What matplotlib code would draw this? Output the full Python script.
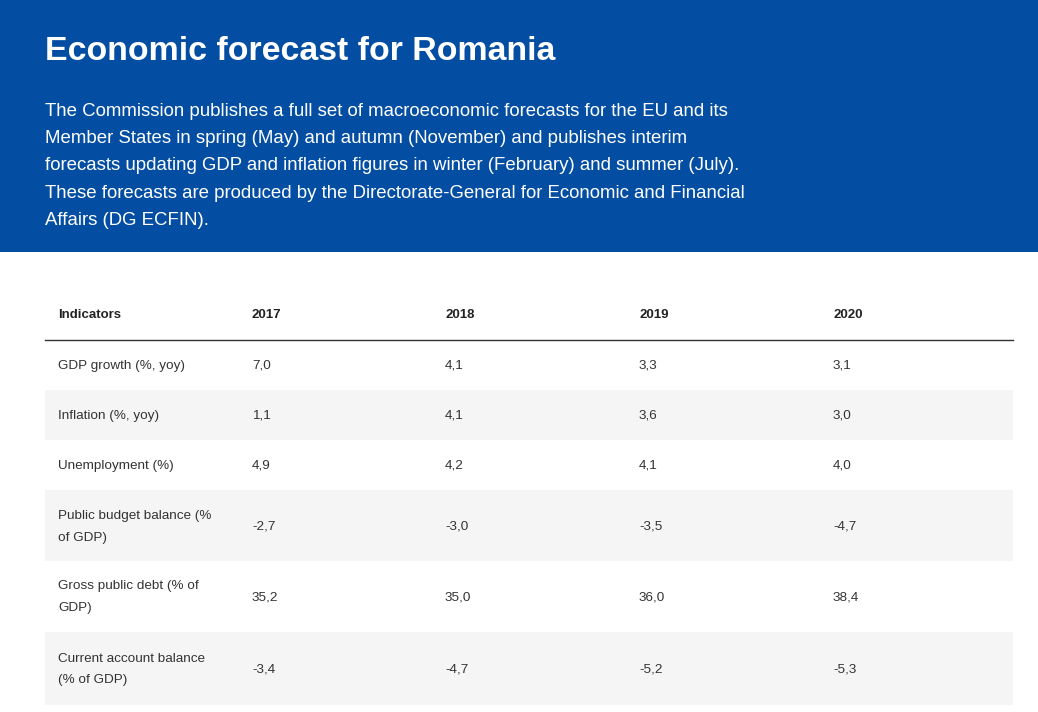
import matplotlib
matplotlib.use("Agg")
import matplotlib.pyplot as plt
from matplotlib.patches import Rectangle

title = "Economic forecast for Romania"
para = ["The Commission publishes a full set of macroeconomic forecasts for the EU and its",
        "Member States in spring (May) and autumn (November) and publishes interim",
        "forecasts updating GDP and inflation figures in winter (February) and summer (July).",
        "These forecasts are produced by the Directorate-General for Economic and Financial",
        "Affairs (DG ECFIN)."]
headers = ["Indicators", "2017", "2018", "2019", "2020"]
indicators = [["GDP growth (%, yoy)"], ["Inflation (%, yoy)"], ["Unemployment (%)"],
              ["Public budget balance (%", "of GDP)"], ["Gross public debt (% of", "GDP)"],
              ["Current account balance", "(% of GDP)"]]
v2017 = ["7,0", "1,1", "4,9", "-2,7", "35,2", "-3,4"]
v2018 = ["4,1", "4,1", "4,2", "-3,0", "35,0", "-4,7"]
v2019 = ["3,3", "3,6", "4,1", "-3,5", "36,0", "-5,2"]
v2020 = ["3,1", "3,0", "4,0", "-4,7", "38,4", "-5,3"]

plt.rcParams['font.family'] = ['Liberation Sans', 'DejaVu Sans']
fig = plt.figure(figsize=(10.38, 7.12), dpi=100)
ax = fig.add_axes([0, 0, 1, 1])
ax.set_xlim(0, 1038); ax.set_ylim(712, 0); ax.axis('off')

ax.add_patch(Rectangle((0, 0), 1038, 252, color="#034ea2", lw=0))
ax.text(45, 51, title, color="white", fontsize=24.4, fontweight="bold", va="center")
for i, l in enumerate(para):
    ax.text(45, 111 + i * 27.4, l, color="white", fontsize=13.4, va="center")

colx = [58, 252, 445, 639, 833]
for x, h in zip(colx, headers):
    ax.text(x, 315, h, fontsize=9.5, fontweight="bold", color="#222", va="center")
ax.plot([45, 1013], [340, 340], color="#333", lw=1)

bounds = [340, 390, 440, 490, 561, 632, 705]
cols = [v2017, v2018, v2019, v2020]
for r in range(len(indicators)):
    y0, y1 = bounds[r], bounds[r + 1]
    if r % 2 == 1:
        ax.add_patch(Rectangle((45, y0), 968, y1 - y0, color="#f5f5f5", lw=0))
    yc = (y0 + y1) / 2 + 1
    lines = indicators[r]
    for j, l in enumerate(lines):
        yy = yc + (j - (len(lines) - 1) / 2) * 22
        ax.text(colx[0], yy, l, fontsize=9.7, color="#333", va="center")
    for c, vals in enumerate(cols):
        ax.text(colx[c + 1], yc, vals[r], fontsize=9.7, color="#333", va="center")

fig.savefig("out.png", dpi=100)
